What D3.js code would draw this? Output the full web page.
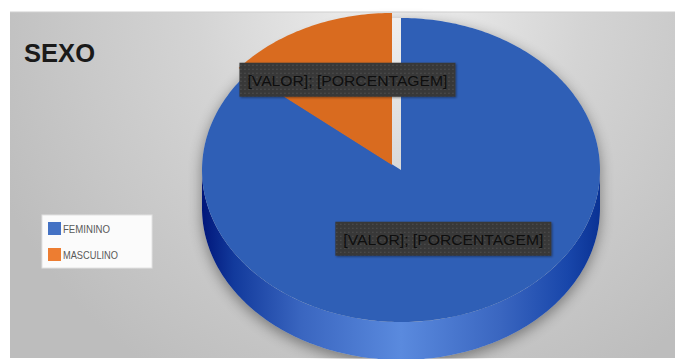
<!DOCTYPE html>
<html>
<head>
<meta charset="utf-8">
<script src="https://cdn.jsdelivr.net/npm/d3@7"></script>
<style>
  body { margin: 0; background: #fff; }
  svg { display: block; font-family: "Liberation Sans", Arial, sans-serif; }
</style>
</head>
<body>
<div class="chart"></div>
<script>
// data (percent estimates, labels are placeholders in the original)
const categories = ["FEMININO", "MASCULINO"];
const values = [86, 14];
const faceColors = ["#2f5fb6", "#d96b1f"];
const legendColors = ["#4472c4", "#ed7d31"];
const labelText = "[VALOR]; [PORCENTAGEM]";
const title = "SEXO";

const width = 675, height = 359;

const svg = d3.select(".chart").append("svg")
    .attr("width", width)
    .attr("height", height);

const defs = svg.append("defs");

// background gradient
const bg = defs.append("radialGradient")
    .attr("id", "bg")
    .attr("gradientUnits", "userSpaceOnUse")
    .attr("cx", 390).attr("cy", 10).attr("r", 430);
bg.append("stop").attr("offset", 0).attr("stop-color", "#f0f0f0");
bg.append("stop").attr("offset", 0.45).attr("stop-color", "#d4d4d4");
bg.append("stop").attr("offset", 1).attr("stop-color", "#bdbdbd");

// side gradient
const side = defs.append("linearGradient")
    .attr("id", "side")
    .attr("gradientUnits", "userSpaceOnUse")
    .attr("x1", 202).attr("x2", 600).attr("y1", 0).attr("y2", 0);
[[0, "#00167a"], [0.08, "#123a9c"], [0.25, "#3a66c0"], [0.5, "#5a8ade"],
 [0.75, "#3a66c0"], [0.92, "#1846aa"], [1, "#0a3294"]].forEach(s => {
    side.append("stop").attr("offset", s[0]).attr("stop-color", s[1]);
});

const blur = defs.append("filter").attr("id", "blur")
    .attr("x", "-20%").attr("y", "-20%").attr("width", "140%").attr("height", "140%");
blur.append("feGaussianBlur").attr("stdDeviation", 7);

const smallShadow = defs.append("filter").attr("id", "boxshadow")
    .attr("x", "-10%").attr("y", "-30%").attr("width", "120%").attr("height", "160%");
smallShadow.append("feDropShadow").attr("dx", 1).attr("dy", 1)
    .attr("stdDeviation", 1).attr("flood-color", "#000").attr("flood-opacity", 0.4);

// dotted pattern for the label boxes
const pat = defs.append("pattern").attr("id", "dots")
    .attr("patternUnits", "userSpaceOnUse").attr("width", 4).attr("height", 4);
pat.append("rect").attr("width", 4).attr("height", 4).attr("fill", "#373737");
pat.append("rect").attr("x", 1).attr("y", 1).attr("width", 1).attr("height", 1).attr("fill", "#5e5e5e");

// chart area
svg.append("rect")
    .attr("x", 10).attr("y", 12)
    .attr("width", width - 10).attr("height", 346)
    .attr("fill", "url(#bg)");
svg.append("line")
    .attr("x1", 10).attr("x2", width).attr("y1", 12).attr("y2", 12)
    .attr("stroke", "#cfcfcf");

// pseudo 3D pie
const cx = 401, cy = 170, rx = 199, ry = 152, depth = 38;
const explodeShift = [[0, 0], [-9, -5]];

const pie = d3.pie().sort(null).startAngle(0).endAngle(2 * Math.PI);
const arcs = pie(values);

function pt(a, r, o, dy) {
    return [cx + o[0] + r * rx * Math.sin(a), cy + o[1] - r * ry * Math.cos(a) + (dy || 0)];
}
function arcPoints(a0, a1, o, dy) {
    const n = Math.max(2, Math.ceil((a1 - a0) / (Math.PI / 180)));
    return d3.range(n + 1).map(k => pt(a0 + (a1 - a0) * k / n, 1, o, dy));
}
const line = d3.line();

// shadow only outside the pie silhouette
const silhouette = arcPoints(-Math.PI / 2, Math.PI / 2, [0, 0], 0)
    .concat(arcPoints(Math.PI / 2, 3 * Math.PI / 2, [0, 0], depth));
const mask = defs.append("mask").attr("id", "outside");
mask.append("rect").attr("width", width).attr("height", height).attr("fill", "#fff");
mask.append("path").attr("d", line(silhouette) + "Z").attr("fill", "#000");

svg.append("g").attr("mask", "url(#outside)")
  .append("path")
    .attr("d", line(silhouette) + "Z")
    .attr("fill", "#000")
    .attr("opacity", 0.4)
    .attr("filter", "url(#blur)")
    .attr("transform", "translate(0,4)");

// sides (front half only)
arcs.forEach((d, i) => {
    const o = explodeShift[i];
    const s = Math.max(d.startAngle, Math.PI / 2), e = Math.min(d.endAngle, 3 * Math.PI / 2);
    if (e <= s) return;
    const top = arcPoints(s, e, o, 0);
    const bottom = arcPoints(s, e, o, depth).reverse();
    svg.append("path")
        .attr("d", line(top.concat(bottom)) + "Z")
        .attr("fill", "url(#side)");
});

// top faces
arcs.forEach((d, i) => {
    const o = explodeShift[i];
    const pts = [pt(0, 0, o)].concat(arcPoints(d.startAngle, d.endAngle, o, 0));
    svg.append("path")
        .attr("d", line(pts) + "Z")
        .attr("fill", faceColors[i]);
});

// data labels
const labelR = [0.5, 0.62];
arcs.forEach((d, i) => {
    const o = explodeShift[i];
    const m = (d.startAngle + d.endAngle) / 2;
    const p = pt(m, labelR[i], o);
    const g = svg.append("g").attr("transform", `translate(${p[0] + 8 * i},${p[1]})`);
    g.append("rect")
        .attr("x", -108).attr("y", -17)
        .attr("width", 216).attr("height", 34)
        .attr("fill", "url(#dots)")
        .attr("filter", "url(#boxshadow)");
    g.append("text")
        .attr("text-anchor", "middle")
        .attr("y", 6)
        .attr("font-size", 15)
        .attr("fill", "#0e0e0e")
        .attr("textLength", 200)
        .attr("lengthAdjust", "spacingAndGlyphs")
        .text(labelText);
});

// title
svg.append("text")
    .attr("x", 24).attr("y", 62)
    .attr("font-size", 26)
    .attr("font-weight", "bold")
    .attr("fill", "#1a1a1a")
    .attr("textLength", 71)
    .attr("lengthAdjust", "spacingAndGlyphs")
    .text(title);

// legend
const ly = d3.scalePoint().domain(categories).range([222, 248]);
svg.append("rect")
    .attr("x", 42).attr("y", 215)
    .attr("width", 110).attr("height", 53)
    .attr("fill", "#fbfbfb")
    .attr("stroke", "#e2e2e2");
const legend = svg.selectAll(".legend")
    .data(categories)
    .enter()
    .append("g")
    .attr("class", "legend")
    .attr("transform", d => `translate(48,${ly(d)})`);
legend.append("rect")
    .attr("width", 13).attr("height", 13)
    .attr("fill", (d, i) => legendColors[i]);
legend.append("text")
    .attr("x", 15).attr("y", 11)
    .attr("font-size", 11)
    .attr("fill", "#595959")
    .attr("textLength", (d, i) => i === 0 ? 47 : 55)
    .attr("lengthAdjust", "spacingAndGlyphs")
    .text(d => d);
</script>
</body>
</html>
